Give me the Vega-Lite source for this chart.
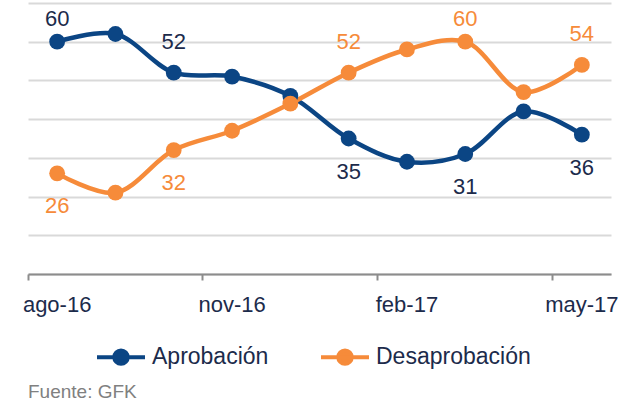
{
  "$schema": "https://vega.github.io/schema/vega-lite/v6.json",
  "autosize": "none",
  "width": 583,
  "height": 271,
  "padding": {"left": 28, "top": 3, "right": 22, "bottom": 129},
  "background": "white",
  "config": {
    "view": {"stroke": null},
    "font": "Liberation Sans",
    "axis": {"labelFont": "Liberation Sans", "titleFont": "Liberation Sans"},
    "legend": {"labelFont": "Liberation Sans"}
  },
  "title": {
    "text": "Fuente: GFK",
    "orient": "bottom",
    "anchor": "start",
    "frame": "group",
    "font": "Liberation Sans",
    "fontSize": 19,
    "fontWeight": "normal",
    "color": "#808080",
    "offset": 11
  },
  "data": {
    "values": [
      {"mes": "ago-16", "serie": "Aprobación", "valor": 60, "rotulo": true},
      {"mes": "sep-16", "serie": "Aprobación", "valor": 62, "rotulo": false},
      {"mes": "oct-16", "serie": "Aprobación", "valor": 52, "rotulo": true},
      {"mes": "nov-16", "serie": "Aprobación", "valor": 51, "rotulo": false},
      {"mes": "dic-16", "serie": "Aprobación", "valor": 46, "rotulo": false},
      {"mes": "ene-17", "serie": "Aprobación", "valor": 35, "rotulo": true},
      {"mes": "feb-17", "serie": "Aprobación", "valor": 29, "rotulo": false},
      {"mes": "mar-17", "serie": "Aprobación", "valor": 31, "rotulo": true},
      {"mes": "abr-17", "serie": "Aprobación", "valor": 42, "rotulo": false},
      {"mes": "may-17", "serie": "Aprobación", "valor": 36, "rotulo": true},
      {"mes": "ago-16", "serie": "Desaprobación", "valor": 26, "rotulo": true},
      {"mes": "sep-16", "serie": "Desaprobación", "valor": 21, "rotulo": false},
      {"mes": "oct-16", "serie": "Desaprobación", "valor": 32, "rotulo": true},
      {"mes": "nov-16", "serie": "Desaprobación", "valor": 37, "rotulo": false},
      {"mes": "dic-16", "serie": "Desaprobación", "valor": 44, "rotulo": false},
      {"mes": "ene-17", "serie": "Desaprobación", "valor": 52, "rotulo": true},
      {"mes": "feb-17", "serie": "Desaprobación", "valor": 58, "rotulo": false},
      {"mes": "mar-17", "serie": "Desaprobación", "valor": 60, "rotulo": true},
      {"mes": "abr-17", "serie": "Desaprobación", "valor": 47, "rotulo": false},
      {"mes": "may-17", "serie": "Desaprobación", "valor": 54, "rotulo": true}
    ]
  },
  "encoding": {
    "x": {
      "field": "mes",
      "type": "ordinal",
      "sort": null,
      "scale": {"type": "band", "paddingInner": 0, "paddingOuter": 0},
      "axis": {
        "title": null,
        "values": ["ago-16", "nov-16", "feb-17", "may-17"],
        "bandPosition": 0,
        "labelAngle": 0,
        "labelFontSize": 22,
        "labelColor": "#1c2b4b",
        "labelPadding": 14,
        "domainColor": "#8c8c8c",
        "domainWidth": 2,
        "tickColor": "#8c8c8c",
        "tickWidth": 2,
        "tickSize": 6,
        "grid": false
      }
    },
    "y": {
      "field": "valor",
      "type": "quantitative",
      "scale": {"domain": [0, 70], "nice": false, "zero": true},
      "axis": {
        "title": null,
        "values": [0, 10, 20, 30, 40, 50, 60, 70],
        "labels": false,
        "ticks": false,
        "domain": false,
        "grid": true,
        "gridColor": "#d9d9d9",
        "gridWidth": 2
      }
    }
  },
  "layer": [
    {
      "mark": {"type": "line", "interpolate": "catmull-rom", "strokeWidth": 4.5},
      "encoding": {
        "color": {
          "field": "serie",
          "type": "nominal",
          "scale": {"domain": ["Aprobación", "Desaprobación"], "range": ["#0b4584", "#f68b3a"]},
          "legend": {
            "title": null,
            "orient": "none",
            "direction": "horizontal",
            "legendX": 67,
            "legendY": 328,
            "padding": 0,
            "labelFontSize": 23,
            "labelColor": "#1c2b4b",
            "labelOffset": 5,
            "columnPadding": 44,
            "symbolType": "M-1,0L1,0M-0.28,0A0.28,0.28,0,1,0,0.28,0A0.28,0.28,0,1,0,-0.28,0Z",
            "symbolSize": 2304,
            "symbolStrokeWidth": 4,
            "encode": {
              "symbols": {
                "update": {
                  "fill": {"scale": "color", "field": "value"},
                  "stroke": {"scale": "color", "field": "value"},
                  "strokeWidth": {"value": 4},
                  "opacity": {"value": 1}
                }
              }
            }
          }
        }
      }
    },
    {
      "mark": {"type": "point", "filled": true, "size": 250, "opacity": 1},
      "encoding": {
        "color": {"field": "serie", "type": "nominal", "legend": null}
      }
    },
    {
      "transform": [{"filter": "datum.rotulo && datum.valor >= 58"}],
      "mark": {"type": "text", "dy": -23, "fontSize": 22, "font": "Liberation Sans"},
      "encoding": {
        "text": {"field": "valor", "type": "quantitative"},
        "color": {"condition": {"test": "datum.serie == 'Aprobación'", "value": "#1c2b4b"}, "value": "#f68b3a"}
      }
    },
    {
      "transform": [{"filter": "datum.rotulo && datum.valor >= 45 && datum.valor < 58"}],
      "mark": {"type": "text", "dy": -31, "fontSize": 22, "font": "Liberation Sans"},
      "encoding": {
        "text": {"field": "valor", "type": "quantitative"},
        "color": {"condition": {"test": "datum.serie == 'Aprobación'", "value": "#1c2b4b"}, "value": "#f68b3a"}
      }
    },
    {
      "transform": [{"filter": "datum.rotulo && datum.valor < 45"}],
      "mark": {"type": "text", "dy": 33, "fontSize": 22, "font": "Liberation Sans"},
      "encoding": {
        "text": {"field": "valor", "type": "quantitative"},
        "color": {"condition": {"test": "datum.serie == 'Aprobación'", "value": "#1c2b4b"}, "value": "#f68b3a"}
      }
    }
  ]
}
